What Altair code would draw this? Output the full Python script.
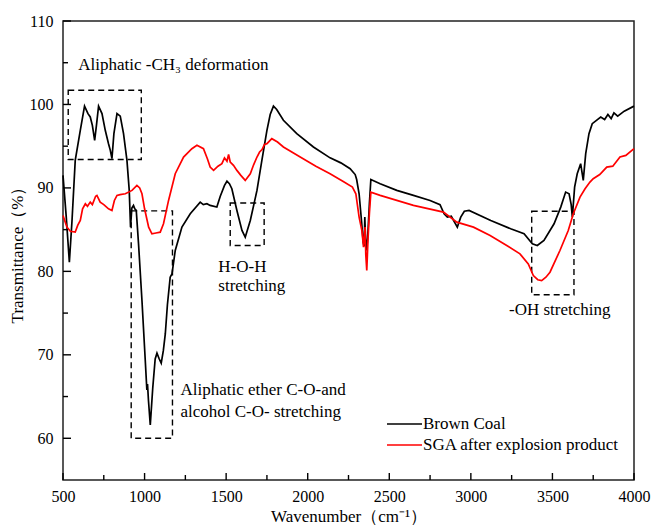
import altair as alt
import pandas as pd

# ---------------- data ----------------
coal_x = [500, 520, 539, 555, 575, 606, 632, 653, 667, 680, 694, 705, 718, 739, 759, 779, 790, 800,
          812, 831, 851, 871, 892, 906, 914, 922, 932, 940, 949, 963, 984, 1004, 1014, 1018, 1024,
          1035, 1050, 1065, 1076, 1090, 1102, 1115, 1127, 1140, 1157, 1168, 1188, 1229, 1280, 1341,
          1360, 1382, 1402, 1443, 1464, 1490, 1505, 1520, 1535, 1566, 1597, 1617, 1648, 1689, 1719,
          1750, 1770, 1790, 1810, 1851, 1933, 2035, 2137, 2203, 2260, 2291, 2300, 2315, 2330, 2340,
          2346, 2350, 2354, 2362, 2370, 2378, 2387, 2444, 2546, 2648, 2750, 2811, 2836, 2856, 2880,
          2917, 2938, 2960, 2989, 3122, 3244, 3326, 3377, 3407, 3448, 3510, 3551, 3581, 3602, 3615,
          3622, 3636, 3652, 3673, 3689, 3704, 3724, 3744, 3770, 3796, 3820, 3840, 3860, 3877, 3900,
          3940, 4000]
coal_y = [91.5, 86.5, 81.1, 86.0, 93.3, 96.9, 99.8, 98.9, 98.5, 97.5, 95.7, 97.5, 99.8, 98.9, 96.9,
          95.3, 94.5, 93.5, 96.5, 98.9, 98.6, 96.5, 93.3, 89.7, 85.3, 87.6, 87.9, 87.5, 87.3, 83.3,
          76.5, 69.4, 65.8, 66.5, 64.5, 61.6, 66.0, 69.5, 70.2, 69.5, 69.0, 70.5, 72.5, 76.0, 79.3,
          79.7, 82.5, 85.3, 86.9, 88.3, 88.0, 88.1, 87.9, 87.7, 89.0, 90.3, 90.8, 90.5, 89.9, 87.3,
          84.9, 84.1, 86.1, 89.7, 93.3, 96.9, 98.8, 99.8, 99.4, 98.1, 96.5, 94.9, 93.6, 93.0, 92.3,
          91.6, 91.0, 89.3, 86.0, 83.5, 83.0, 86.5, 84.0, 82.5, 85.0, 88.1, 91.0, 90.5, 89.7, 89.1,
          88.5, 88.0, 86.9, 86.5, 86.6, 85.3, 86.5, 87.2, 87.3, 86.1, 85.1, 84.5, 83.3, 83.1, 83.7,
          85.7, 87.7, 89.5, 89.3, 88.0, 86.5, 90.1, 91.7, 92.9, 90.9, 94.1, 96.5, 97.7, 98.1, 98.5,
          98.2, 98.8, 98.3, 99.0, 98.6, 99.2, 99.8]

sga_x = [500, 524, 545, 575, 590, 606, 620, 637, 650, 667, 680, 700, 708, 728, 750, 779, 800, 815,
         831, 850, 882, 923, 953, 970, 984, 1000, 1025, 1045, 1070, 1096, 1116, 1147, 1188, 1239,
         1290, 1321, 1361, 1385, 1402, 1423, 1450, 1474, 1490, 1505, 1515, 1525, 1545, 1566, 1590,
         1617, 1648, 1669, 1689, 1705, 1720, 1735, 1750, 1780, 1815, 1851, 1954, 2050, 2137, 2223,
         2274, 2295, 2315, 2332, 2342, 2348, 2352, 2356, 2362, 2370, 2378, 2387, 2444, 2648, 2832,
         2914, 3016, 3118, 3220, 3301, 3352, 3383, 3410, 3434, 3460, 3485, 3546, 3597, 3628, 3669,
         3700, 3730, 3750, 3790, 3833, 3870, 3914, 3950, 4000]
sga_y = [86.7, 85.3, 84.8, 84.7, 85.5, 86.1, 87.5, 88.1, 87.8, 88.3, 88.0, 89.0, 89.1, 88.3, 88.0,
         87.5, 87.3, 88.5, 89.1, 89.2, 89.3, 89.7, 90.3, 90.0, 89.3, 87.5, 85.3, 84.5, 84.6, 84.7,
         85.7, 88.5, 91.7, 93.7, 94.7, 95.1, 94.7, 93.5, 92.5, 92.1, 92.6, 92.9, 93.6, 93.2, 94.0,
         93.1, 92.7, 92.1, 91.5, 90.9, 91.7, 92.8, 93.7, 94.3, 94.6, 95.2, 95.3, 95.9, 95.5, 94.9,
         93.7, 92.6, 91.7, 90.7, 90.1, 89.3, 86.5, 84.9, 82.9, 84.5, 85.3, 82.0, 80.1, 84.0, 86.9,
         89.5, 89.1, 87.9, 87.1, 85.9, 85.3, 84.3, 83.1, 82.1, 80.9, 79.5, 79.0, 78.9, 79.3, 79.9,
         82.5, 84.9, 86.9, 88.9, 89.9, 90.7, 91.1, 91.6, 92.5, 92.6, 93.7, 93.9, 94.7]

series_names = ["Brown Coal", "SGA after explosion product"]
series_colors = ["#000000", "#ff0000"]

# dashed boxes (x1, x2, y1, y2 in data units)
box_x1 = [532, 918, 1525, 3373]
box_x2 = [980, 1171, 1733, 3632]
box_y1 = [93.4, 60.0, 83.1, 77.2]
box_y2 = [101.7, 87.25, 88.2, 87.2]

# annotation texts
note_text = ["Aliphatic  -CH\u2083 deformation", "H-O-H", "stretching",
             "Aliphatic ether C-O-and", "alcohol C-O- stretching", "-OH stretching"]
note_x = [594, 1452, 1452, 1220, 1220, 3234]
note_y = [104.7, 80.5, 78.2, 65.75, 63.2, 75.35]

x_major = [500, 1000, 1500, 2000, 2500, 3000, 3500, 4000]
x_minor = [750, 1250, 1750, 2250, 2750, 3250, 3750]
y_major = [60, 70, 80, 90, 100, 110]
y_minor = [65, 75, 85, 95, 105]

W, H = 571, 459
FONT = "Liberation Serif"
FS_TICK = 16
FS_TEXT = 17

df = pd.concat([
    pd.DataFrame({"wn": coal_x, "T": coal_y, "series": series_names[0]}),
    pd.DataFrame({"wn": sga_x, "T": sga_y, "series": series_names[1]}),
], ignore_index=True)

xscale = alt.Scale(domain=[500, 4000], nice=False, zero=False)
yscale = alt.Scale(domain=[55, 110], nice=False, zero=False)

lines = alt.Chart(df).mark_line(strokeWidth=1.7).encode(
    x=alt.X("wn:Q", scale=xscale,
            axis=alt.Axis(title="Wavenumber\uff08cm\u207b\u00b9\uff09", values=x_major, format="d",
                          ticks=False, domain=False, grid=False, labelPadding=8, titlePadding=4,
                          labelFontSize=FS_TICK, titleFontSize=FS_TEXT, labelFont=FONT,
                          titleFont=FONT, labelColor="black", titleColor="black",
                          titleFontWeight="normal", labelFlush=False)),
    y=alt.Y("T:Q", scale=yscale,
            axis=alt.Axis(title="Transmittance\uff08%\uff09", values=y_major, ticks=False,
                          domain=False, grid=False, labelPadding=10, titlePadding=3,
                          labelFontSize=FS_TICK, titleFontSize=FS_TEXT, labelFont=FONT,
                          titleFont=FONT, labelColor="black", titleColor="black",
                          titleFontWeight="normal", labelFlush=False)),
    color=alt.Color("series:N", scale=alt.Scale(domain=series_names, range=series_colors),
                    legend=None),
    order=alt.Order("wn:Q"),
)

# manual legend (inside plot, lower right)
legend_layers = []
for i, (name, col) in enumerate(zip(series_names, series_colors)):
    row_y = 403 + 21 * i
    ldf = pd.DataFrame({"series": [name]})
    legend_layers.append(alt.Chart(ldf).mark_rule(strokeWidth=1.7, color=col).encode(
        x=alt.value(324), x2=alt.value(359), y=alt.value(row_y)))
    legend_layers.append(alt.Chart(ldf).mark_text(align="left", baseline="middle", font=FONT,
                                                  fontSize=FS_TEXT, color="black").encode(
        x=alt.value(360), y=alt.value(row_y), text="series:N"))

boxes_df = pd.DataFrame({"x1": box_x1, "x2": box_x2, "y1": box_y1, "y2": box_y2})
boxes = alt.Chart(boxes_df).mark_rect(fill=None, fillOpacity=0, stroke="black", strokeWidth=1.4,
                                      strokeDash=[6, 4]).encode(
    x=alt.X("x1:Q", scale=xscale), x2="x2:Q",
    y=alt.Y("y1:Q", scale=yscale), y2="y2:Q",
)

notes_df = pd.DataFrame({"t": note_text, "x": note_x, "y": note_y})
notes = alt.Chart(notes_df).mark_text(align="left", baseline="middle", font=FONT,
                                      fontSize=FS_TEXT, color="black").encode(
    x=alt.X("x:Q", scale=xscale), y=alt.Y("y:Q", scale=yscale), text="t:N")

xt_major = alt.Chart(pd.DataFrame({"v": x_major})).mark_rule(color="black", strokeWidth=1.4).encode(
    x=alt.X("v:Q", scale=xscale), y=alt.value(H), y2=alt.value(H - 7))
xt_minor = alt.Chart(pd.DataFrame({"v": x_minor})).mark_rule(color="black", strokeWidth=1.4).encode(
    x=alt.X("v:Q", scale=xscale), y=alt.value(H), y2=alt.value(H - 5))
yt_major = alt.Chart(pd.DataFrame({"v": y_major})).mark_rule(color="black", strokeWidth=1.4).encode(
    y=alt.Y("v:Q", scale=yscale), x=alt.value(0), x2=alt.value(8))
yt_minor = alt.Chart(pd.DataFrame({"v": y_minor})).mark_rule(color="black", strokeWidth=1.4).encode(
    y=alt.Y("v:Q", scale=yscale), x=alt.value(0), x2=alt.value(5))

chart = alt.layer(boxes, lines, notes, *legend_layers,
                  xt_major, xt_minor, yt_major, yt_minor).properties(
    width=W, height=H,
    autosize=alt.AutoSizeParams(type="none"),
    padding={"left": 63, "top": 21, "right": 20, "bottom": 47},
    background="white",
).configure_view(stroke="#222222", strokeWidth=1.5)

chart.save("out.html", embed_options={"renderer": "svg", "actions": False})
